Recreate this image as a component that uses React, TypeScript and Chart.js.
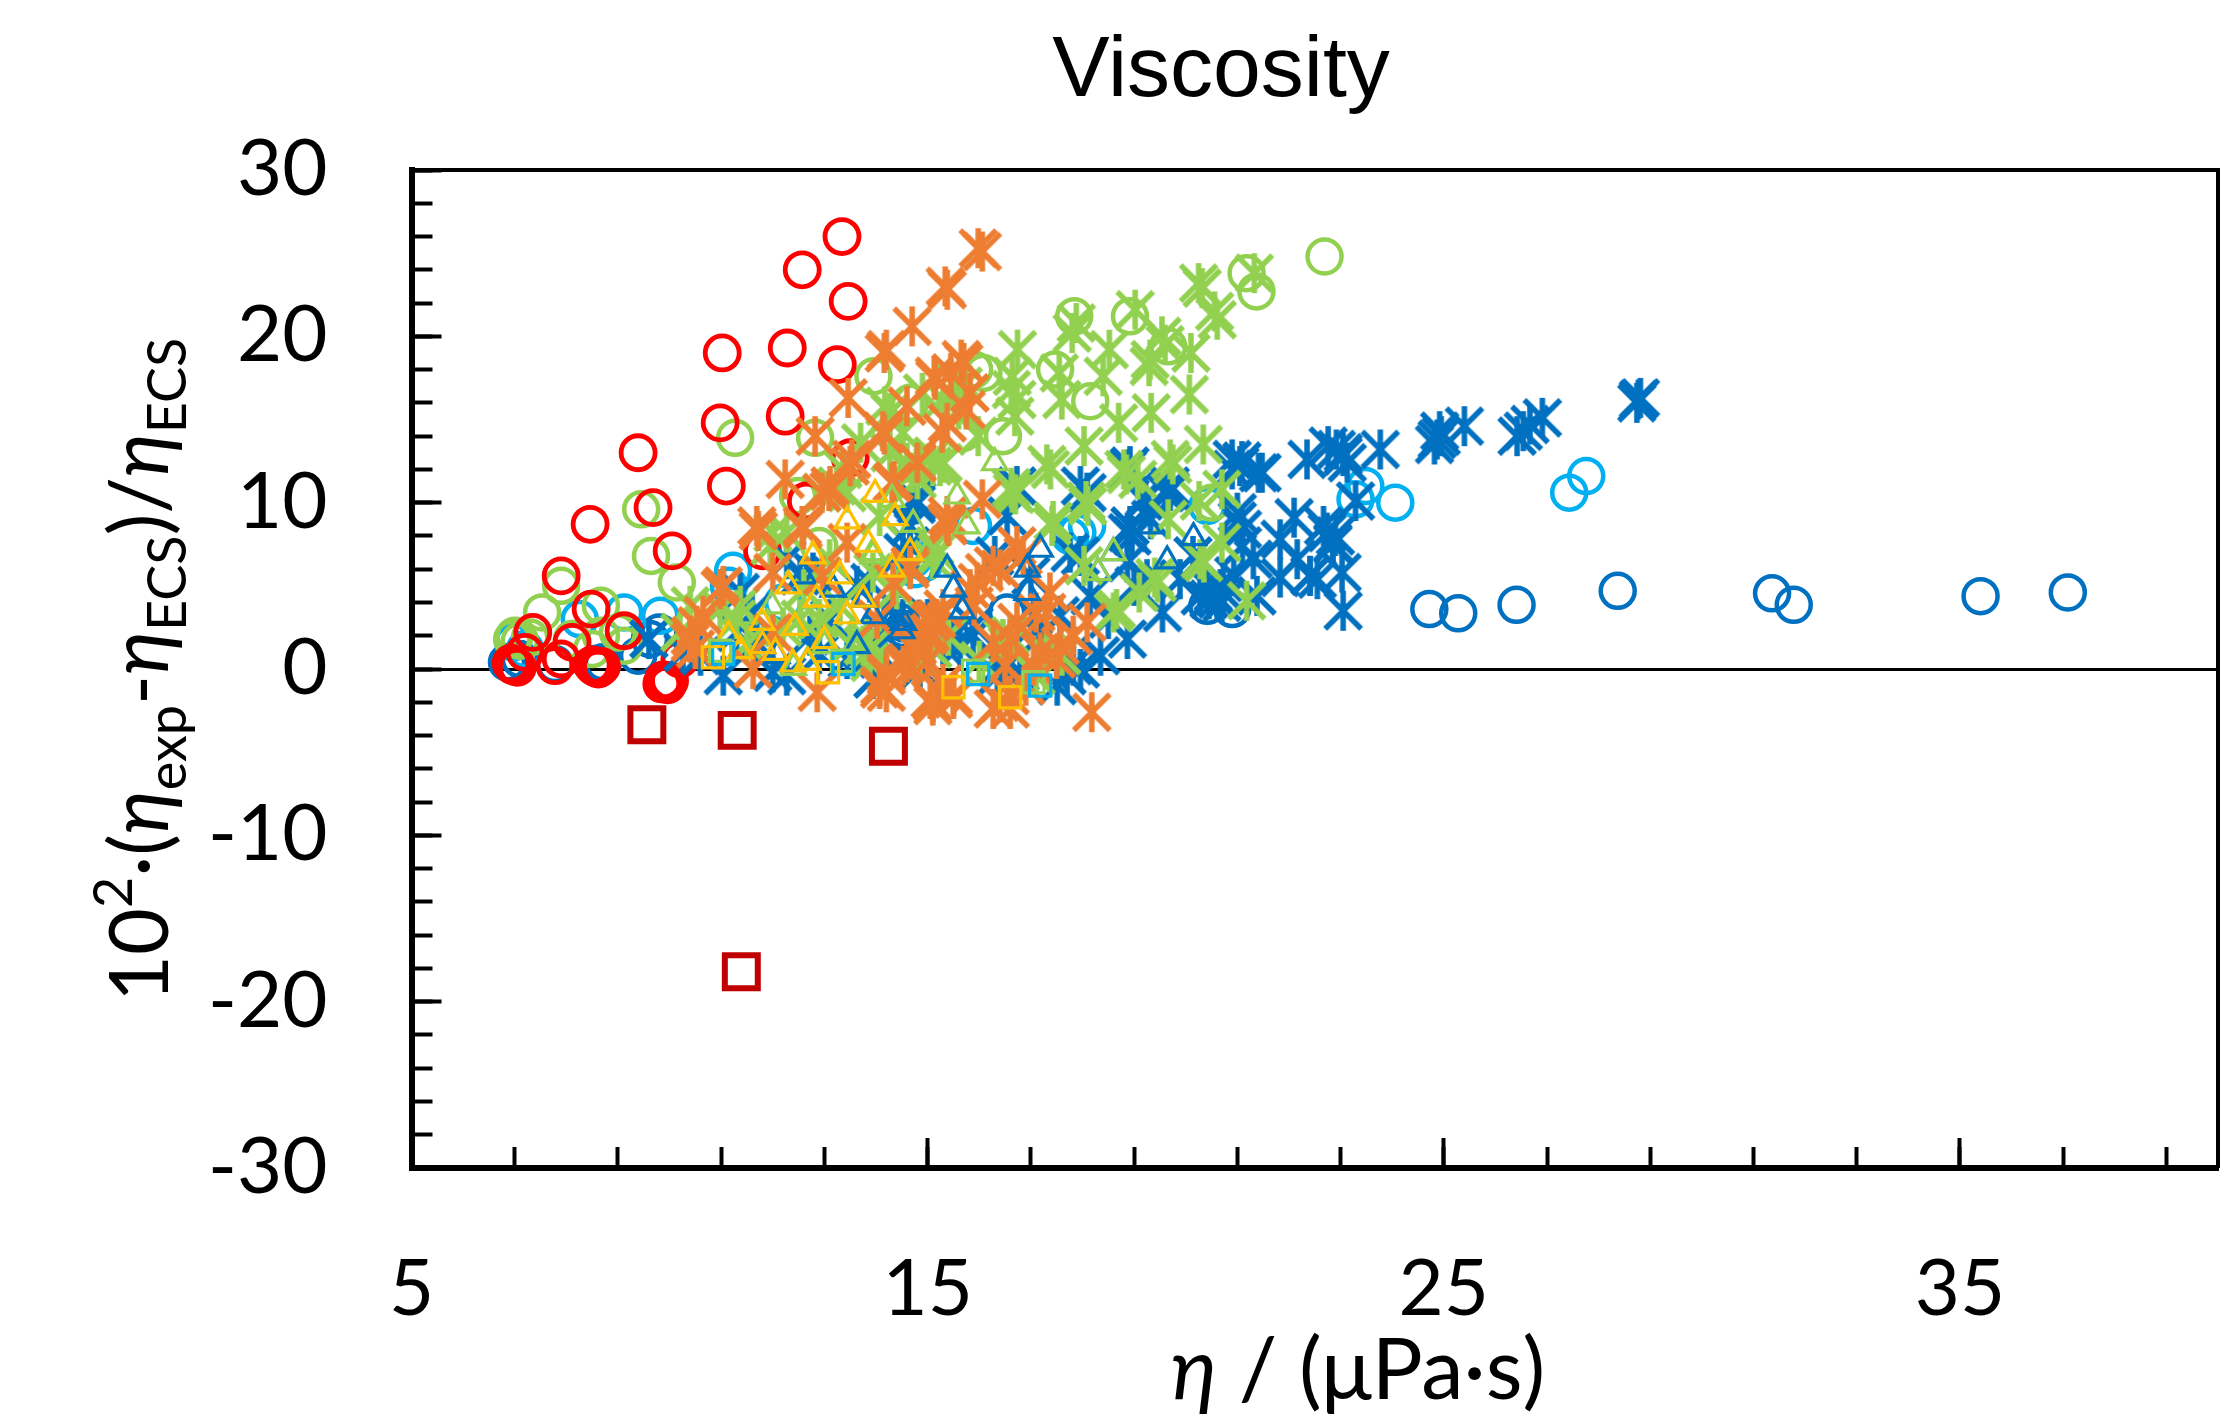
import React, { useEffect, useRef } from "react";
import { Chart, registerables } from "chart.js";

Chart.register(...registerables);

type P = [number, number];

const titleText = "Viscosity";
const xMajor = [5, 15, 25, 35];
const xMinor = [5, 7, 9, 11, 13, 15, 17, 19, 21, 23, 25, 27, 29, 31, 33, 35, 37, 39];
const yMajor = [-30, -20, -10, 0, 10, 20, 30];
const yMinor = [-30, -28, -26, -24, -22, -20, -18, -16, -14, -12, -10, -8, -6, -4, -2, 0, 2, 4, 6, 8, 10, 12, 14, 16, 18, 20, 22, 24, 26, 28, 30];

const blueCircles: P[] = [
  [24.72, 3.6], [25.28, 3.35], [26.41, 3.86], [28.37, 4.7], [31.36, 4.55], [31.78, 3.86], [35.4, 4.38], [37.09, 4.6],
  [20.42, 3.8], [20.9, 3.6], [6.85, 0.4], [7.1, 0.6], [7.78, 0.3], [8.71, 0.4], [9.39, 0.8], [9.8, 2.2], [9.62, 1.8], [14.49, 2.8], [14.47, 3.4], [14.53, 2.4], [16.54, 3.4], [8.55, 0.3],
];
const lightBlueCircles: P[] = [
  [9.12, 3.4], [9.82, 3.2], [11.23, 5.9], [11.15, 5.0], [6.97, 1.6], [8.26, 3.0], [15.88, 8.6], [14.72, 6.6], [17.9, 8.2], [18.09, 8.6], [17.76, 8.0], [20.42, 9.8],
  [23.29, 10.2], [23.48, 11.0], [24.06, 10.0], [27.43, 10.6], [27.76, 11.6], [12.2, 4.0], [14.95, 6.4], [14.76, 6.0], [7.2, 1.2],
];
const greenCircles: P[] = [
  [13.95, 17.6], [11.27, 13.9], [12.82, 13.9], [12.49, 10.4], [9.45, 9.6], [9.64, 6.8], [10.14, 5.2], [15.9, 18.0], [12.9, 7.4], [14.68, 11.4],
  [7.9, 5.0], [7.53, 3.4], [8.67, 3.8], [9.12, 1.4], [7.0, 2.0], [6.95, 1.8], [7.1, 1.7], [8.11, 1.8], [8.67, 2.0], [9.0, 2.2], [7.3, 1.9], [8.5, 1.2],
  [22.69, 24.8], [21.18, 23.8], [21.37, 22.7], [17.84, 21.2], [18.92, 21.2], [19.66, 19.4], [17.47, 18.0], [18.15, 16.1], [16.46, 14.0], [16.08, 17.8], [14.66, 16.0], [15.69, 14.2], [20.5, 10.0],
];
const redCircles: P[] = [
  [13.34, 26.0], [12.57, 24.0], [13.46, 22.1], [11.02, 19.0], [12.28, 19.3], [13.25, 18.3], [10.98, 14.8], [12.24, 15.2], [9.39, 13.0], [11.1, 11.0], [9.68, 9.7], [13.5, 12.7], [12.65, 10.1], [8.46, 8.7], [10.05, 7.1], [11.8, 7.1], [7.9, 5.6],
  [8.48, 3.6], [7.35, 2.2], [9.12, 2.3], [8.11, 1.6], [7.2, 1.0], [6.97, 0.2], [6.93, 0.35], [7.05, 0.1], [7.78, 0.2], [7.9, 0.6], [8.55, 0.1], [8.5, 0.25], [8.62, 0.0], [8.68, 0.15], [9.92, -0.8], [9.88, -0.65], [9.96, -0.95], [10.0, -0.7], [9.85, -0.9], [10.2, 0.6],
];
const blueStars: P[] = [
  [22.35, 12.6], [22.92, 13.2], [23.13, 12.4], [23.05, 13.0], [22.76, 13.4], [23.05, 12.8], [23.77, 13.2], [23.29, 10.1], [22.74, 8.2], [22.85, 7.5], [22.9, 8.0], [22.67, 8.6], [22.85, 7.6], [23.03, 5.8], [22.41, 5.6], [23.05, 3.5],
  [24.87, 13.8], [24.92, 14.3], [24.82, 13.5], [24.95, 14.0], [25.4, 14.6], [26.42, 14.0], [26.54, 14.3], [26.67, 14.7], [26.91, 15.1], [28.77, 16.2], [28.81, 16.3], [28.74, 16.0],
  [20.9, 12.0], [21.05, 12.2], [21.48, 11.8], [21.0, 8.9], [21.1, 8.4], [22.1, 9.1], [21.83, 7.8], [21.31, 6.6], [22.16, 6.6], [21.83, 5.5], [22.41, 5.6], [22.55, 5.4],
  [19.55, 3.4], [18.87, 1.8], [18.35, 0.8], [19.7, 10.7], [19.18, 10.1], [18.92, 8.6], [20.67, 4.8], [20.53, 4.6], [20.28, 4.4], [19.89, 5.4], [20.14, 6.8], [21.1, 7.4], [20.93, 5.6], [21.38, 4.4], [20.7, 4.0], [20.45, 4.2], [20.73, 5.2], [20.61, 4.2],
  [18.87, 12.0], [18.92, 12.2], [18.09, 10.6], [19.22, 10.4], [19.67, 10.8], [19.6, 10.6], [19.7, 11.0], [20.9, 12.6], [21.09, 12.5], [21.41, 11.8], [21.0, 9.4], [18.96, 8.0],
  [14.72, 10.2], [14.78, 9.9], [11.04, -0.4], [12.0, -0.2], [12.27, -0.4], [11.37, 4.6], [11.3, 2.2], [10.26, 1.0], [12.27, 6.6], [12.78, 5.8], [12.53, 5.6], [13.63, 5.0], [14.52, 7.0], [13.88, 1.0], [14.47, 2.8], [14.13, 2.2], [13.44, 0.6], [9.6, 1.8], [12.72, 2.0], [13.94, -0.6], [11.69, 1.6],
  [14.79, 10.1], [16.54, 9.2], [16.73, 11.0], [17.96, 11.0], [17.76, 7.0], [18.87, 8.2], [18.15, 4.4], [14.66, 8.6], [14.66, 7.4], [13.88, 5.2],
  [17.51, -1.0], [17.82, 0.2], [15.3, 1.4], [15.63, 1.4], [17.18, 2.0], [17.57, 3.2], [17.0, 5.6], [16.79, -0.2], [16.35, -0.4], [14.85, 0.0], [14.13, 1.6], [19.32, 9.0], [18.87, 6.4], [19.25, 5.4], [17.96, 6.8],
  [16.3, 6.8], [15.9, 2.6], [16.6, 1.2], [15.0, 3.0], [10.6, 0.8], [11.6, 3.4], [12.9, 0.9], [13.1, 3.0], [18.5, 3.0], [19.0, 5.0],
  [16.4, 0.2], [15.88, 2.0], [15.5, 2.0], [17.7, -0.4], [17.96, 0.0], [17.05, 3.2], [14.52, 3.0],
];
const greenStars: P[] = [
  [20.25, 23.2], [20.32, 22.9], [20.56, 21.5], [20.61, 21.0], [21.33, 23.8], [16.74, 19.2], [17.88, 20.8], [17.8, 20.2], [19.02, 21.6], [16.62, 16.8], [18.52, 19.2], [17.55, 17.8], [17.6, 16.2], [18.4, 17.6], [19.29, 18.2], [19.31, 18.6], [19.54, 20.0], [19.6, 19.5], [20.1, 19.0], [20.07, 16.5], [18.7, 14.8], [19.33, 15.4], [16.69, 15.2], [18.03, 13.4], [15.98, 14.0], [20.34, 13.5], [17.31, 12.3], [17.38, 12.0], [19.7, 12.6], [19.75, 12.3], [18.8, 12.0], [18.85, 11.7], [19.07, 11.4], [16.62, 10.9], [16.7, 10.5], [18.07, 10.1], [18.1, 9.8], [20.7, 10.8], [20.26, 10.1], [17.43, 8.9], [19.66, 9.0], [20.7, 7.6], [20.28, 6.6], [20.35, 6.4], [19.45, 5.2], [19.4, 5.5], [19.1, 4.6], [21.18, 4.1], [18.66, 3.6], [18.03, 6.2], [18.6, 3.4],
  [14.27, 15.4], [15.3, 12.4], [14.6, 12.4], [14.07, 9.2], [15.14, 7.4], [16.64, 10.6], [12.0, 8.2], [13.24, 11.0], [13.36, 12.0], [15.1, 12.2], [14.27, 13.0], [14.7, 11.8], [11.37, 3.8], [10.98, 3.6], [10.4, 3.8], [13.94, 5.8], [15.1, 6.6], [14.4, 4.8], [13.88, 1.2], [16.46, 1.8], [17.41, 8.6], [15.18, 7.0], [12.2, 2.5], [12.9, 3.0], [13.5, 1.5], [15.4, 2.0], [15.1, 1.2], [16.0, 0.5], [17.3, 1.0], [17.6, 0.8], [11.5, 1.5], [10.2, 2.2],
  [14.9, 16.6], [15.6, 15.6], [13.1, 6.6], [12.6, 4.8], [15.5, 17.2], [13.7, 13.6],
  [12.27, 8.2], [11.95, 7.4], [12.95, 10.6], [13.44, 10.6], [14.8, 11.4], [15.1, 12.8], [11.3, 3.0], [12.53, 3.0], [13.3, 3.8], [13.88, 0.4], [13.75, 1.4], [13.82, 1.8], [14.85, 0.8], [16.6, 2.0], [16.54, 1.4], [17.1, -0.4], [14.52, 14.2], [15.24, 12.2], [16.64, 17.6], [16.73, 16.2], [14.17, 15.8], [15.69, 17.0], [15.3, 16.2],
];
const orangeStars: P[] = [
  [16.06, 25.1], [15.98, 25.3], [15.34, 23.0], [15.38, 22.8], [14.7, 20.6], [14.16, 19.0], [14.2, 19.2], [15.65, 18.6], [15.13, 17.6], [15.45, 17.8], [13.46, 16.3], [14.6, 15.8], [15.82, 16.6], [14.16, 14.1], [12.82, 14.0], [15.28, 14.2], [15.75, 15.6], [14.8, 12.4], [13.53, 12.6], [14.35, 11.3], [12.24, 11.4], [13.09, 10.7], [11.72, 8.3], [12.57, 8.6], [16.06, 10.2], [15.37, 8.8],
  [15.14, 17.4], [15.7, 18.4], [15.38, 14.8], [14.13, 14.3], [14.31, 11.2], [15.4, 8.6], [14.66, 6.2], [16.73, 7.4], [16.27, 6.2], [15.96, 5.2], [15.18, 3.0], [14.72, 1.2], [14.2, -0.4], [14.07, -1.2], [17.37, 4.6], [16.73, 2.8], [16.27, 1.6], [18.09, 2.8], [17.57, 1.4], [17.05, 0.2], [15.24, -1.4], [15.05, -1.8], [15.5, -1.6], [16.4, -2.0], [16.6, -1.6], [18.18, -2.6], [15.38, 9.2], [14.66, 6.0],
  [11.69, 8.6], [12.59, 8.4], [12.0, 5.8], [11.04, 5.0], [10.53, 2.6], [10.4, 2.0], [13.11, 11.0], [13.44, 7.6], [12.96, 5.6], [14.33, 5.2], [11.62, 0.0], [12.86, -1.4], [14.2, -0.2], [15.05, 2.2], [12.0, 2.2], [14.02, 3.0], [15.1, -2.0], [10.4, 1.6], [10.5, 1.2], [16.5, 0.2], [15.0, 0.5], [15.9, 3.8], [17.1, 3.4], [16.9, -1.0], [15.3, -0.9], [14.6, 0.4], [16.1, 5.8],
  [16.4, 6.0], [16.85, 6.8], [14.99, 2.0], [14.53, 0.2], [15.1, -2.2], [15.5, -1.8], [16.27, -2.4], [16.6, -2.4], [17.31, 3.4], [17.82, 2.0], [17.5, 0.6], [17.18, 1.0], [16.6, 1.8], [15.3, 3.6], [15.05, 2.8], [15.82, 4.8],
  [10.65, 3.2], [10.98, 4.8], [12.95, 10.6], [13.5, 12.2], [14.92, 2.2], [14.8, 1.4], [15.1, 3.0], [14.07, -1.0], [14.2, -1.4],
];
const blueTriangles: P[] = [
  [18.6, 7.0], [18.3, 5.8], [19.27, 8.6], [19.64, 6.5], [20.15, 7.9], [17.18, 7.2], [15.38, 6.0], [15.5, 4.8], [16.93, 6.0], [16.93, 4.6], [15.67, 3.5], [13.63, 1.4], [13.94, 3.2], [14.53, 2.8], [12.59, 5.6], [13.17, 4.8], [13.75, 4.2], [12.08, 0.8], [11.8, 1.4], [14.5, 2.3],
];
const greenTriangles: P[] = [
  [14.31, 10.2], [14.72, 8.7], [13.94, 6.8], [16.3, 12.4], [15.57, 10.4], [15.76, 8.6], [15.01, 7.0], [13.94, 7.0], [11.98, 3.8], [12.62, 3.0], [11.37, 3.2], [12.66, 0.4], [13.0, 1.4], [18.6, 7.0], [18.3, 5.8], [12.4, 0.1],
];
const yellowTriangles: P[] = [
  [13.98, 10.5], [13.44, 8.9], [14.37, 9.1], [13.85, 7.5], [14.66, 7.0], [12.78, 6.8], [14.31, 6.0], [12.3, 5.0], [13.3, 5.6], [12.85, 4.2], [13.75, 4.2], [13.44, 3.2], [11.79, 2.8], [12.43, 2.5], [11.14, 2.0], [11.8, 1.4], [11.37, 1.1], [13.0, 1.7], [12.05, 1.0], [12.39, 0.3], [12.68, 0.4],
];
const yellowSquares: P[] = [[10.84, 0.7], [13.07, -0.2], [15.5, -1.1], [16.6, -1.7]];
const greenSquares: P[] = [[10.98, 1.1], [13.34, 0.5], [15.88, -0.1], [17.05, -0.8]];
const lightBlueSquares: P[] = [[11.04, 0.9], [13.37, 0.3], [15.98, -0.3], [17.18, -1.0]];
const darkRedSquares: P[] = [[9.56, -3.35], [11.31, -3.69], [14.24, -4.64], [11.39, -18.2]];

const BLUE = "#0070C0";
const LIGHT = "#00B0F0";
const GREEN = "#92D050";
const ORANGE = "#ED7D31";
const YELLOW = "#FFC000";
const RED = "#FF0000";
const DARK = "#C00000";
const FONT = "Lato, 'Noto Sans', sans-serif";

function asterisk(color: string): HTMLCanvasElement {
  const c = document.createElement("canvas");
  c.width = 48;
  c.height = 48;
  const g = c.getContext("2d")!;
  g.strokeStyle = color;
  g.lineWidth = 5.5;
  g.lineCap = "butt";
  g.beginPath();
  g.moveTo(24, 4); g.lineTo(24, 44);
  g.moveTo(6, 6); g.lineTo(42, 42);
  g.moveTo(42, 6); g.lineTo(6, 42);
  g.stroke();
  return c;
}

function series(data: P[], color: string, pointStyle: any, radius: number, width: number, order: number) {
  return {
    data: data.map(([x, y]) => ({ x, y })),
    pointStyle,
    pointRadius: radius,
    pointHoverRadius: radius,
    pointBorderColor: color,
    pointBackgroundColor: "transparent",
    pointBorderWidth: width,
    showLine: false,
    order,
    clip: false as const,
  };
}

// draws a run of text segments one after another along the current x axis
function runText(ctx: CanvasRenderingContext2D, parts: { t: string; size: number; italic?: boolean; dy?: number }[]) {
  let cx = 0;
  for (const p of parts) {
    ctx.font = `${p.italic ? "italic " : ""}${p.size}px ${FONT}`;
    ctx.fillText(p.t, cx, p.dy ?? 0);
    cx += ctx.measureText(p.t).width;
  }
}

const textPlugin = {
  id: "textPlugin",
  afterDraw(chart: any) {
    const { ctx, chartArea: a } = chart;
    ctx.save();
    ctx.strokeStyle = "#000";
    ctx.lineWidth = 4;
    ctx.beginPath();
    ctx.moveTo(a.left, a.top);
    ctx.lineTo(a.right, a.top);
    ctx.lineTo(a.right, a.bottom);
    ctx.stroke();
    ctx.fillStyle = "#000";
    ctx.textAlign = "left";
    ctx.textBaseline = "alphabetic";

    ctx.font = "86px 'Liberation Sans', Arial, sans-serif";
    ctx.textAlign = "center";
    ctx.fillText(titleText, 1221, 96);
    ctx.textAlign = "left";

    ctx.save();
    ctx.translate(1171, 1399);
    runText(ctx, [
      { t: "η", size: 85, italic: true },
      { t: " / (μPa·s)", size: 85 },
    ]);
    ctx.restore();

    ctx.save();
    ctx.translate(168, 1002);
    ctx.rotate(-Math.PI / 2);
    runText(ctx, [
      { t: "10", size: 81 },
      { t: "2", size: 54, dy: -36 },
      { t: "·(", size: 81 },
      { t: "η", size: 81, italic: true },
      { t: "exp", size: 54, dy: 18 },
      { t: "-", size: 81 },
      { t: "η", size: 81, italic: true },
      { t: "ECS", size: 54, dy: 18 },
      { t: ")/", size: 81 },
      { t: "η", size: 81, italic: true },
      { t: "ECS", size: 54, dy: 18 },
    ]);
    ctx.restore();
    ctx.restore();
  },
};

const noPad = (s: any) => {
  s.paddingLeft = 0;
  s.paddingRight = 0;
  s.paddingTop = 0;
  s.paddingBottom = 0;
};

export default function App() {
  const ref = useRef<HTMLCanvasElement>(null);
  useEffect(() => {
    const chart = new Chart(ref.current!, {
      type: "scatter",
      data: {
        datasets: [
          series(blueCircles, BLUE, "circle", 17, 4.5, 14),
          series(lightBlueCircles, LIGHT, "circle", 17, 4.5, 13),
          series(greenCircles, GREEN, "circle", 17, 4.5, 12),
          series(redCircles, RED, "circle", 17, 4.8, 11),
          series(blueStars, BLUE, asterisk(BLUE), 20, 1, 10),
          series(greenStars, GREEN, asterisk(GREEN), 20, 1, 9),
          series(orangeStars, ORANGE, asterisk(ORANGE), 20, 1, 8),
          series(blueTriangles, BLUE, "triangle", 14, 3.2, 7),
          series(greenTriangles, GREEN, "triangle", 14, 3.2, 6),
          series(yellowTriangles, YELLOW, "triangle", 14, 3.2, 5),
          series(greenSquares, GREEN, "rect", 15, 3.2, 4),
          series(lightBlueSquares, LIGHT, "rect", 15, 3.2, 3),
          series(yellowSquares, YELLOW, "rect", 15, 3.2, 2),
          series(darkRedSquares, DARK, "rect", 23.3, 6, 1),
        ] as any,
      },
      options: {
        responsive: false,
        animation: false,
        events: [],
        layout: { autoPadding: false, padding: { top: 170, right: 21, left: 0, bottom: 0 } },
        plugins: { legend: { display: false }, title: { display: false }, tooltip: { enabled: false } },
        scales: {
          x: {
            type: "linear",
            position: "bottom",
            min: 5,
            max: 40,
            afterBuildTicks: (s: any) => { s.ticks = xMajor.map((value) => ({ value })); },
            afterFit: (s: any) => { s.height = 256; noPad(s); },
            border: { color: "#000", width: 6 },
            grid: { drawOnChartArea: false, tickLength: -30, tickColor: "#000", tickWidth: 4 },
            ticks: { color: "#000", font: { family: FONT, size: 78 }, padding: 105, maxRotation: 0, autoSkip: false, callback: (v: any) => String(v) },
          },
          xMinorAxis: {
            type: "linear",
            position: "bottom",
            weight: -1,
            min: 5,
            max: 40,
            afterBuildTicks: (s: any) => { s.ticks = xMinor.map((value) => ({ value })); },
            afterFit: (s: any) => { s.height = 0; noPad(s); },
            border: { display: false },
            grid: { drawOnChartArea: false, tickLength: -21, tickColor: "#000", tickWidth: 4 },
            ticks: { display: false, autoSkip: false },
          },
          y: {
            type: "linear",
            position: "left",
            min: -30,
            max: 30,
            afterBuildTicks: (s: any) => { s.ticks = yMajor.map((value) => ({ value })); },
            afterFit: (s: any) => { s.width = 411.5; noPad(s); },
            border: { color: "#000", width: 6 },
            grid: {
              color: (c: any) => (c.tick && c.tick.value === 0 ? "#000" : "transparent"),
              lineWidth: 3,
              tickLength: -30,
              tickColor: "#000",
              tickWidth: 4,
            },
            ticks: { color: "#000", font: { family: FONT, size: 78 }, padding: 114, autoSkip: false, callback: (v: any) => String(v) },
          },
          yMinorAxis: {
            type: "linear",
            position: "left",
            weight: -1,
            min: -30,
            max: 30,
            afterBuildTicks: (s: any) => { s.ticks = yMinor.map((value) => ({ value })); },
            afterFit: (s: any) => { s.width = 0; noPad(s); },
            border: { display: false },
            grid: { drawOnChartArea: false, tickLength: -21, tickColor: "#000", tickWidth: 4 },
            ticks: { display: false, autoSkip: false },
          },
        },
      } as any,
      plugins: [textPlugin],
    });
    return () => chart.destroy();
  }, []);
  return (
    <div style={{ position: "absolute", left: 0, top: 0, width: 2239, height: 1424, background: "#fff" }}>
      <canvas ref={ref} width={2239} height={1424} style={{ display: "block" }} />
    </div>
  );
}
